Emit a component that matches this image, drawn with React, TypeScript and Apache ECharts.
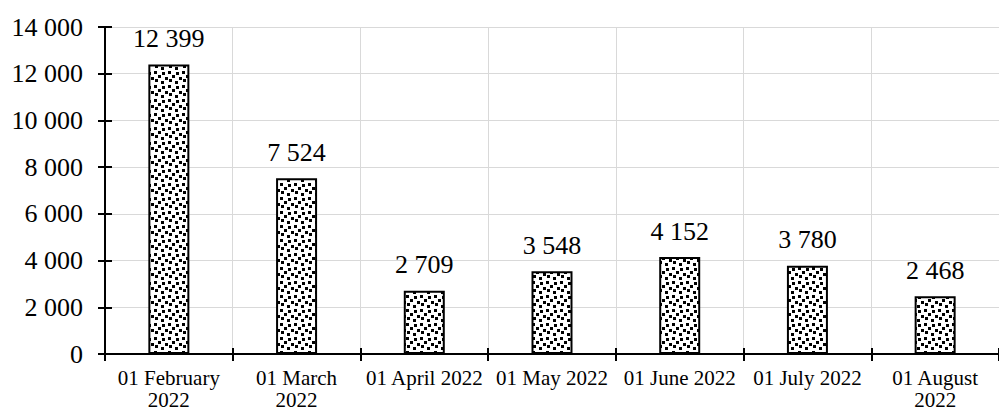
import React, { useEffect, useRef } from "react";
import * as echarts from "echarts";

const categories = [
  "01 February\n2022",
  "01 March\n2022",
  "01 April 2022",
  "01 May 2022",
  "01 June 2022",
  "01 July 2022",
  "01 August\n2022",
];
const values = [12399, 7524, 2709, 3548, 4152, 3780, 2468];
const yTicks = { min: 0, max: 14000, interval: 2000 };

const fmt = (v: number) => String(v).replace(/\B(?=(\d{3})+(?!\d))/g, " ");

function makePattern(): HTMLCanvasElement {
  const c = document.createElement("canvas");
  c.width = 14;
  c.height = 14;
  const ctx = c.getContext("2d")!;
  ctx.fillStyle = "#ffffff";
  ctx.fillRect(0, 0, 14, 14);
  ctx.fillStyle = "#000000";
  const sq = [
    [0, 1], [8, 2], [4, 5], [11, 7], [1, 9], [7, 11],
  ];
  sq.forEach(([x, y]) => ctx.fillRect(x, y, 3, 3));
  return c;
}

const FONT = "Liberation Serif";

export default function App() {
  const ref = useRef<HTMLDivElement>(null);
  useEffect(() => {
    if (!ref.current) return;
    const chart = echarts.init(ref.current, undefined, { renderer: "svg" });
    const pattern = makePattern();
    chart.setOption({
      animation: false,
      textStyle: { fontFamily: FONT },
      grid: { left: 105, right: -13, top: 27, bottom: 59, containLabel: false },
      xAxis: [
        {
          type: "category",
          data: categories,
          axisLine: { lineStyle: { color: "#000", width: 2 } },
          axisTick: { show: true, length: 7, lineStyle: { color: "#000", width: 2 } },
          axisLabel: {
            interval: 0,
            color: "#000",
            fontFamily: FONT,
            fontSize: 21,
            lineHeight: 22,
            margin: 13,
            align: "center",
          },
          splitLine: { show: true, lineStyle: { color: "#d9d9d9", width: 1 } },
        },
        {
          type: "category",
          data: categories,
          position: "bottom",
          axisLine: { show: false },
          axisTick: { show: true, inside: true, length: 6, lineStyle: { color: "#000", width: 2 } },
          axisLabel: { show: false },
          splitLine: { show: false },
        },
      ],
      yAxis: [
        {
          type: "value",
          min: yTicks.min,
          max: yTicks.max,
          interval: yTicks.interval,
          axisLine: { show: true, lineStyle: { color: "#000", width: 2 } },
          axisTick: { show: true, length: 7, lineStyle: { color: "#000", width: 2 } },
          axisLabel: {
            color: "#000",
            fontFamily: FONT,
            fontSize: 26,
            margin: 22,
            formatter: (v: number) => fmt(v),
          },
          splitLine: { show: true, lineStyle: { color: "#d9d9d9", width: 1 } },
        },
        {
          type: "value",
          min: yTicks.min,
          max: yTicks.max,
          interval: yTicks.interval,
          position: "left",
          axisLine: { show: false },
          axisTick: { show: true, inside: true, length: 7, lineStyle: { color: "#000", width: 2 } },
          axisLabel: { show: false },
          splitLine: { show: false },
        },
      ],
      series: [
        {
          type: "bar",
          data: values,
          barWidth: 41,
          itemStyle: {
            color: { image: pattern, repeat: "repeat" },
            borderColor: "#000",
            borderWidth: 2,
          },
          label: {
            show: true,
            position: "top",
            distance: 13,
            color: "#000",
            fontFamily: FONT,
            fontSize: 26,
            formatter: (p: any) => fmt(p.value),
          },
        },
      ],
    });
    return () => chart.dispose();
  }, []);
  return <div ref={ref} style={{ position: "absolute", left: 0, top: 0, width: 999, height: 413 }} />;
}
